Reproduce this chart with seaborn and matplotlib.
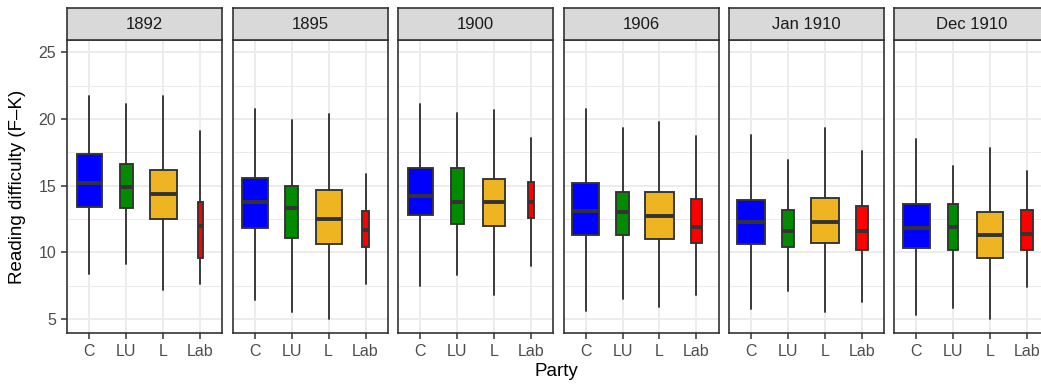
import matplotlib
matplotlib.use("Agg")
import matplotlib.pyplot as plt
import numpy as np
import pandas as pd
import seaborn as sns

# ---- data ----
elections = ["1892", "1895", "1900", "1906", "Jan 1910", "Dec 1910"]
parties = ["C", "LU", "L", "Lab"]
party_colors = ["#0000FF", "#008B00", "#EEB422", "#FF0000"]

whisker_high = [[21.7, 21.1, 21.7, 19.1],
                [20.75, 19.9, 20.4, 15.85],
                [21.1, 20.45, 20.65, 18.6],
                [20.75, 19.35, 19.8, 18.7],
                [18.8, 16.9, 19.3, 17.6],
                [18.5, 16.5, 17.8, 16.1]]
q3 = [[17.35, 16.6, 16.2, 13.75],
      [15.55, 15.0, 14.65, 13.1],
      [16.35, 16.3, 15.5, 15.25],
      [15.2, 14.5, 14.5, 14.0],
      [13.9, 13.15, 14.1, 13.5],
      [13.6, 13.6, 13.0, 13.2]]
median = [[15.2, 14.9, 14.35, 12.0],
          [13.75, 13.3, 12.5, 11.7],
          [14.25, 13.8, 13.75, 13.75],
          [13.1, 13.0, 12.7, 11.9],
          [12.3, 11.6, 12.3, 11.6],
          [11.8, 11.9, 11.3, 11.4]]
q1 = [[13.4, 13.3, 12.5, 9.55],
      [11.85, 11.1, 10.6, 10.4],
      [12.8, 12.1, 12.0, 12.6],
      [11.3, 11.3, 11.0, 10.7],
      [10.65, 10.4, 10.7, 10.15],
      [10.3, 10.2, 9.6, 10.15]]
whisker_low = [[8.4, 9.1, 7.2, 7.6],
               [6.4, 5.5, 5.0, 7.6],
               [7.5, 8.3, 6.8, 9.0],
               [5.6, 6.5, 5.9, 6.8],
               [5.75, 7.1, 5.5, 6.3],
               [5.3, 5.8, 5.0, 7.4]]
# relative box width (varwidth ~ sqrt of group size)
box_width = [[0.68, 0.36, 0.73, 0.14],
             [0.70, 0.36, 0.70, 0.18],
             [0.69, 0.35, 0.62, 0.145],
             [0.72, 0.33, 0.77, 0.29],
             [0.74, 0.33, 0.76, 0.33],
             [0.74, 0.27, 0.71, 0.31]]

rows = []
for i, e in enumerate(elections):
    for j, p in enumerate(parties):
        rows.append(dict(election=e, party=p, whislo=whisker_low[i][j], q1=q1[i][j],
                         med=median[i][j], q3=q3[i][j], whishi=whisker_high[i][j],
                         width=box_width[i][j]))
df = pd.DataFrame(rows)

# ---- style ----
sns.set_theme(style="white")
plt.rcParams["font.family"] = ["Liberation Sans", "DejaVu Sans"]

EDGE = "#333333"


def draw_boxes(data, **kws):
    ax = plt.gca()
    data = data.set_index("party").loc[parties]
    stats = []
    for p, r in data.iterrows():
        stats.append(dict(label=p, whislo=r.whislo, q1=r.q1, med=r.med,
                          q3=r.q3, whishi=r.whishi, fliers=[]))
    bp = ax.bxp(stats, positions=np.arange(len(parties)), widths=list(data["width"]),
                patch_artist=True, showcaps=False, showfliers=False,
                boxprops=dict(edgecolor=EDGE, linewidth=1.35),
                whiskerprops=dict(color=EDGE, linewidth=1.35),
                medianprops=dict(color=EDGE, linewidth=2.8, solid_capstyle="butt"))
    for patch, c in zip(bp["boxes"], party_colors):
        patch.set_facecolor(c)
        patch.set_zorder(3)
    for ln in bp["medians"] + bp["whiskers"]:
        ln.set_zorder(4)


g = sns.FacetGrid(df, col="election", col_order=elections, sharey=True,
                  height=3, aspect=0.6)
g.map_dataframe(draw_boxes)
g.set_titles("")
g.set_axis_labels("", "")

fig = g.figure
fig.set_size_inches(10.41, 3.86)
W, H = 1041.0, 386.0
top_px, bot_px = 40.0, 333.3
step, pw = 165.4, 155.0
left0 = 67.3

for i, ax in enumerate(g.axes.flat):
    l = left0 + i * step
    ax.set_position([l / W, (H - bot_px) / H, pw / W, (bot_px - top_px) / H])
    ax.set_xlim(-0.6, 3.6)
    ax.set_ylim(3.925, 25.93)
    ax.set_xticks(range(4))
    ax.set_xticklabels(parties)
    ax.set_yticks([5, 10, 15, 20, 25])
    ax.set_yticks([7.5, 12.5, 17.5, 22.5], minor=True)
    ax.set_axisbelow(True)
    ax.grid(True, which="major", color="#EBEBEB", linewidth=1.3)
    ax.grid(True, which="minor", axis="y", color="#EBEBEB", linewidth=0.7)
    ax.set_facecolor("white")
    for s in ax.spines.values():
        s.set_visible(True)
        s.set_color(EDGE)
        s.set_linewidth(1.2)
    ax.tick_params(axis="x", which="major", length=4.5, width=1.1, color=EDGE,
                   labelcolor="#4D4D4D", labelsize=11.5, pad=3.5, bottom=True)
    ax.tick_params(axis="y", which="major", length=4.5, width=1.1, color=EDGE,
                   labelcolor="#4D4D4D", labelsize=11.5, pad=3.5, left=(i == 0),
                   labelleft=(i == 0))
    ax.tick_params(axis="y", which="minor", length=0, left=False)
    # strip
    sax = fig.add_axes([l / W, (H - top_px) / H, pw / W, (top_px - 7.7) / H])
    sax.set_facecolor("#D9D9D9")
    sax.set_xticks([])
    sax.set_yticks([])
    for s in sax.spines.values():
        s.set_visible(True)
        s.set_color(EDGE)
        s.set_linewidth(1.2)
    sax.text(0.5, 0.47, elections[i], ha="center", va="center", fontsize=12,
             color="#1A1A1A", transform=sax.transAxes)

fig.text(18 / W, 1 - 186.7 / H, "Reading difficulty (F\u2013K)", rotation=90,
         ha="center", va="center", fontsize=13.5, color="black")
fig.text(556 / W, 1 - 372 / H, "Party", ha="center", va="center",
         fontsize=13.5, color="black")

fig.savefig("out.png", dpi=100, facecolor="white")
